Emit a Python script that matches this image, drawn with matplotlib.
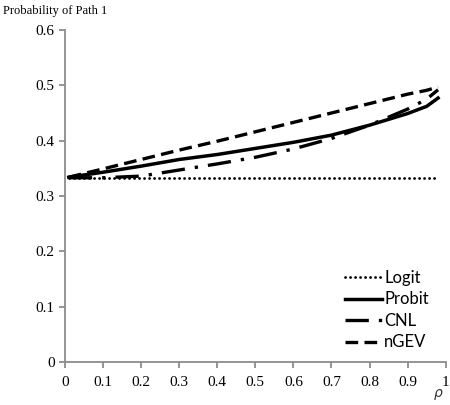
import matplotlib
matplotlib.use("Agg")
from matplotlib import pyplot as plt

# values
rho = [0.01, 0.1, 0.2, 0.3, 0.4, 0.5, 0.6, 0.7, 0.8, 0.9, 0.95, 0.98]
logit = [0.333] * len(rho)
probit = [0.334, 0.343, 0.354, 0.366, 0.375, 0.386, 0.397, 0.410, 0.428, 0.449, 0.462, 0.477]
cnl = [0.333, 0.333, 0.336, 0.347, 0.358, 0.370, 0.385, 0.404, 0.428, 0.457, 0.475, 0.492]
ngev = [0.334, 0.349, 0.366, 0.383, 0.399, 0.416, 0.433, 0.450, 0.467, 0.484, 0.491, 0.497]

xticks = [0, 0.1, 0.2, 0.3, 0.4, 0.5, 0.6, 0.7, 0.8, 0.9, 1]
xlabels = ['0', '0.1', '0.2', '0.3', '0.4', '0.5', '0.6', '0.7', '0.8', '0.9', '1']
yticks = [0, 0.1, 0.2, 0.3, 0.4, 0.5, 0.6]
ylabels = ['0', '0.1', '0.2', '0.3', '0.4', '0.5', '0.6']

fig = plt.figure(figsize=(4.5, 4.05), dpi=100)
ax = fig.add_axes([0.1444, 0.106, 0.846, 0.82])

ax.plot(rho, logit, color='black', lw=2.0, linestyle=(0, (0.05, 1.75)),
        dash_capstyle='round', label='Logit')
ax.plot(rho, probit, color='black', lw=2.5, label='Probit')
ax.plot(rho, cnl, color='black', lw=2.4, linestyle=(0, (7, 3, 1, 3)), label='CNL')
ax.plot(rho, ngev, color='black', lw=2.4, linestyle=(0, (3.8, 1.9)), label='nGEV')

ax.set_xlim(0, 1)
ax.set_ylim(0, 0.6)
ax.set_xticks(xticks)
ax.set_xticklabels(xlabels)
ax.set_yticks(yticks)
ax.set_yticklabels(ylabels)
for lab in ax.get_xticklabels() + ax.get_yticklabels():
    lab.set_fontfamily('Liberation Serif')
    lab.set_fontsize(11)
for s in ['top', 'right']:
    ax.spines[s].set_visible(False)
for s in ['left', 'bottom']:
    ax.spines[s].set_color('#8c8c8c')
    ax.spines[s].set_linewidth(1.3)
ax.tick_params(color='#8c8c8c', width=1.3, length=4, direction='out')
ax.tick_params(axis='x', pad=6)

fig.text(0.007, 0.965, 'Probability of Path 1', family='Liberation Serif', fontsize=9)
fig.text(0.985, 0.02, r'$\rho$', fontsize=10, ha='right', color='#333333')

ax.legend(loc='lower right', bbox_to_anchor=(0.995, -0.01), frameon=False,
          prop={'family': 'Lato', 'size': 12}, handlelength=2.2,
          handletextpad=0.15, labelspacing=0.33)

fig.savefig('out.png', dpi=100)
